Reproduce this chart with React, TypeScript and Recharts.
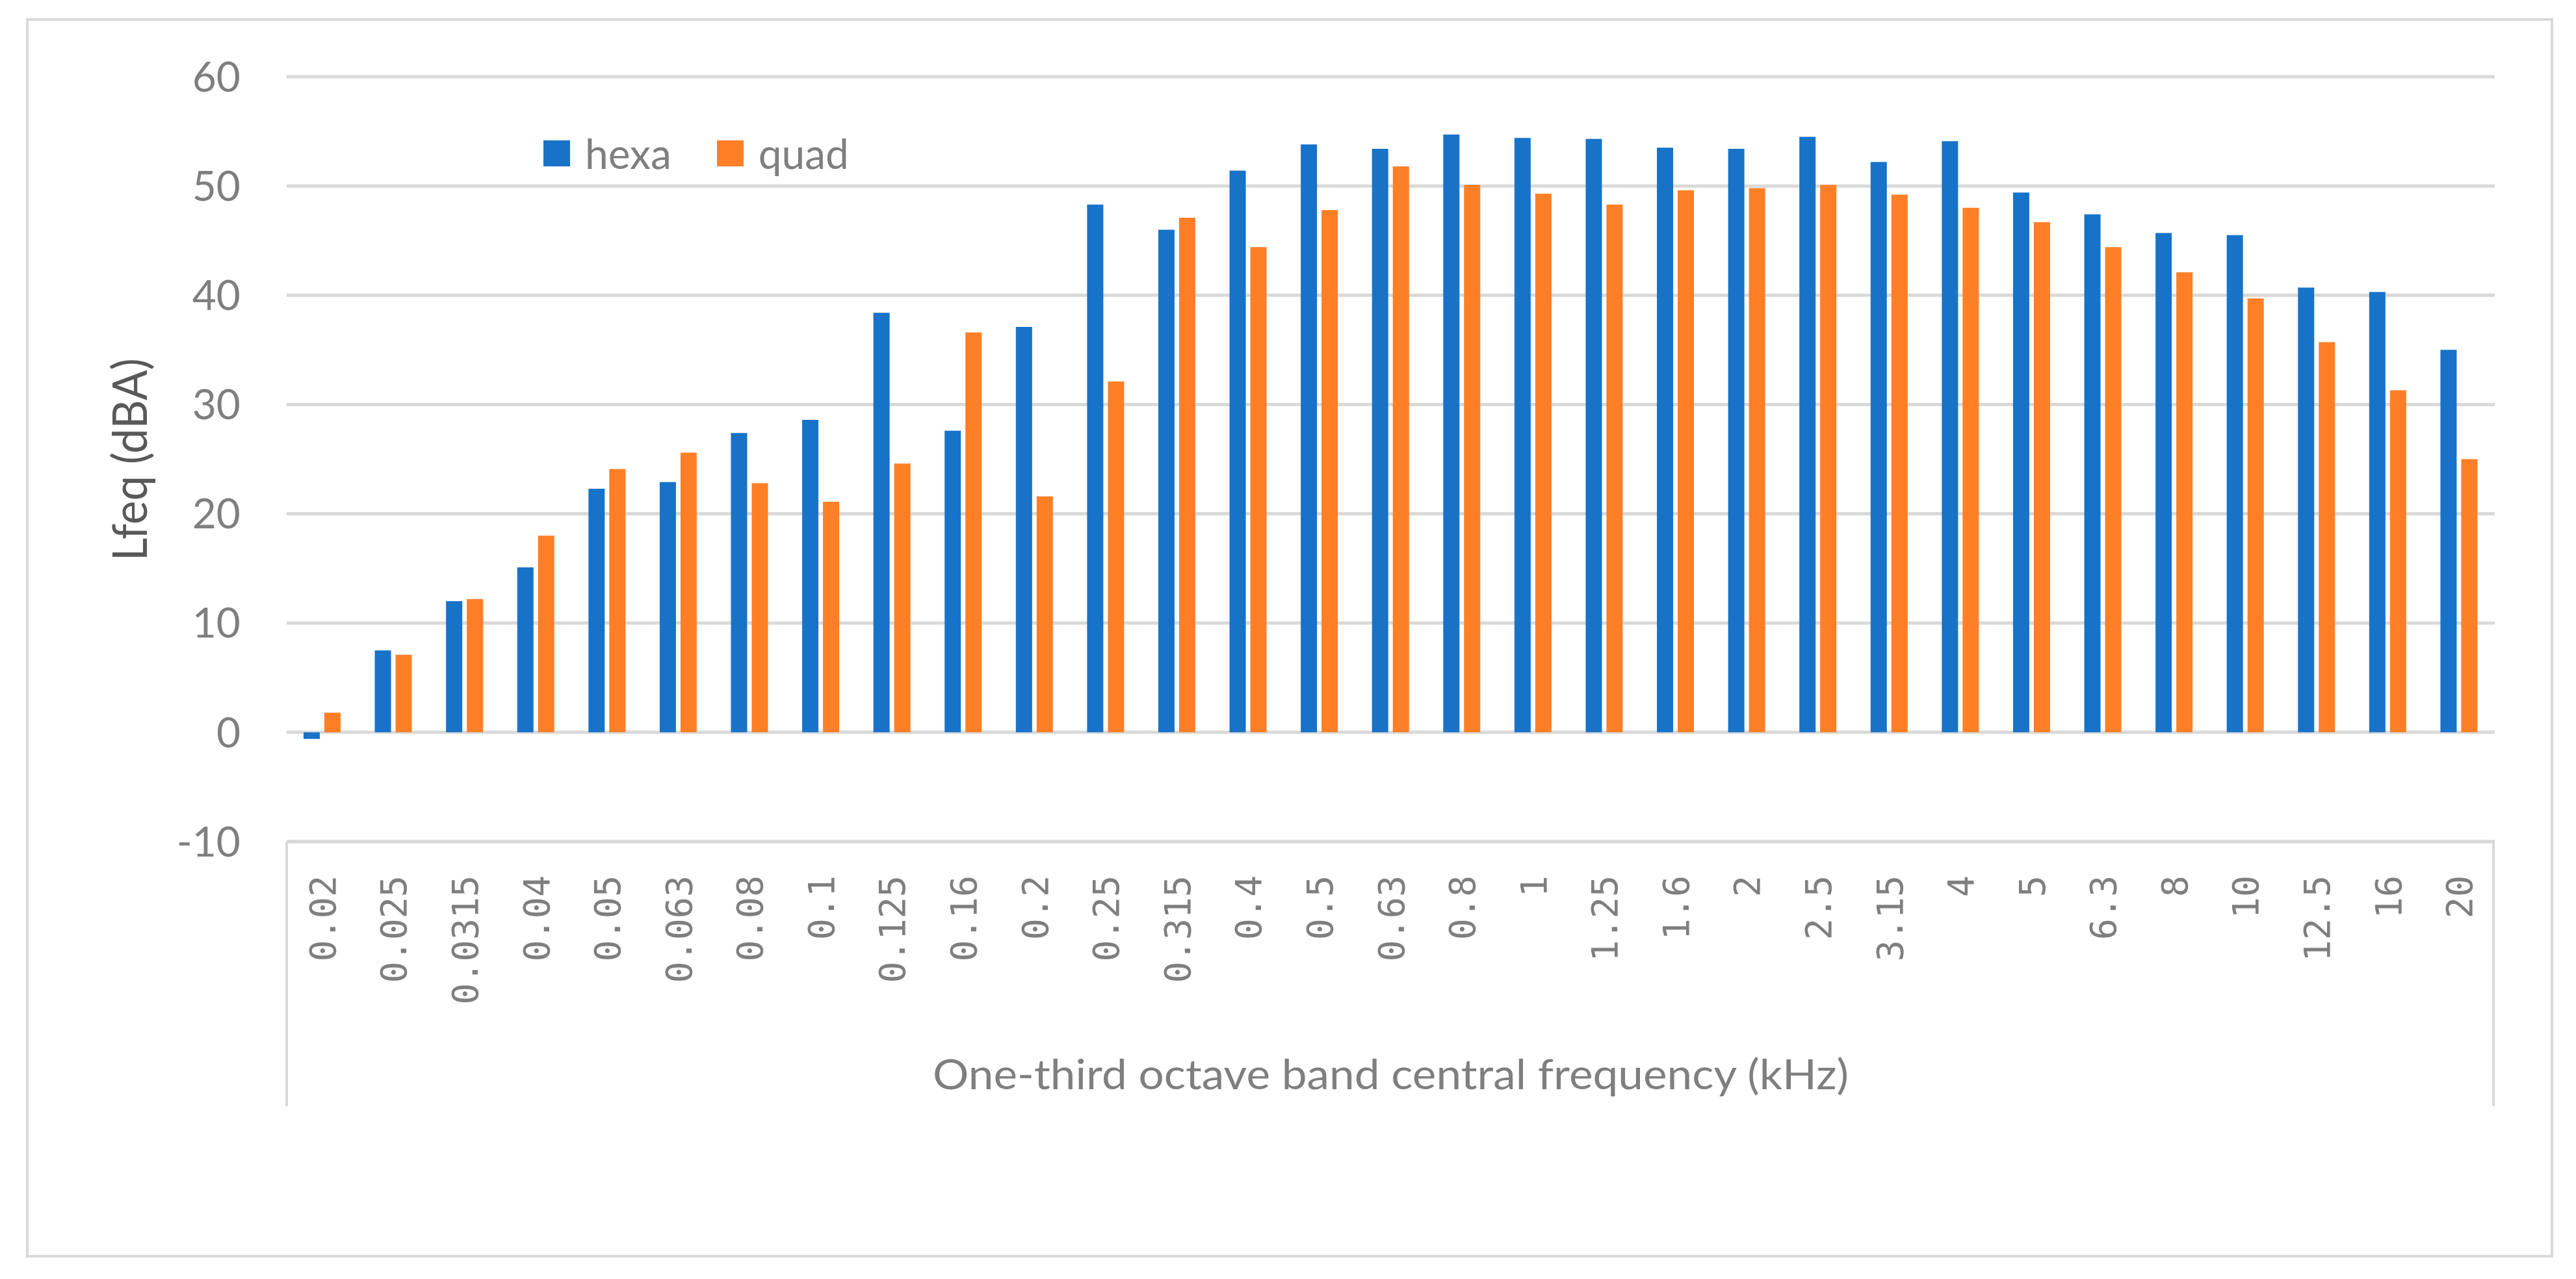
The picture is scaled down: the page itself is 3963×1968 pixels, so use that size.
import React from 'react';
import { BarChart, Bar, XAxis, YAxis, CartesianGrid, Legend } from 'recharts';

// one-third octave band centres (kHz)
const bands = [
  '0.02', '0.025', '0.0315', '0.04', '0.05', '0.063', '0.08', '0.1', '0.125', '0.16',
  '0.2', '0.25', '0.315', '0.4', '0.5', '0.63', '0.8', '1', '1.25', '1.6',
  '2', '2.5', '3.15', '4', '5', '6.3', '8', '10', '12.5', '16', '20',
];

const hexa = [
  -0.6, 7.5, 12.0, 15.1, 22.3, 22.9, 27.4, 28.6, 38.4, 27.6,
  37.1, 48.3, 46.0, 51.4, 53.8, 53.4, 54.7, 54.4, 54.3, 53.5,
  53.4, 54.5, 52.2, 54.1, 49.4, 47.4, 45.7, 45.5, 40.7, 40.3, 35.0,
];

const quad = [
  1.8, 7.1, 12.2, 18.0, 24.1, 25.6, 22.8, 21.1, 24.6, 36.6,
  21.6, 32.1, 47.1, 44.4, 47.8, 51.8, 50.1, 49.3, 48.3, 49.6,
  49.8, 50.1, 49.2, 48.0, 46.7, 44.4, 42.1, 39.7, 35.7, 31.3, 25.0,
];

const yTicks = [-10, 0, 10, 20, 30, 40, 50, 60];

const W = 3963;
const H = 1968;
const GRID = '#d9d9d9';
const TEXT = '#7f7f7f';
const BLUE = '#1873c8';
const ORANGE = '#ff7f27';

const data = bands.map((freq, i) => ({ freq, hexa: hexa[i], quad: quad[i] }));

const FreqTick = (props: any) => {
  const { x, y, payload } = props;
  // axis line sits at y - 8 (tickSize 6 + tickMargin 2)
  const top = y - 8 + 52;
  return (
    <text
      transform={`translate(${x + 20},${top}) rotate(-90)`}
      textAnchor="end"
      fill={TEXT}
      fontSize={55}
      fontFamily="'DejaVu Sans Mono', monospace"
    >
      {payload.value}
    </text>
  );
};

const AxisBox = (props: any) => {
  const vb = props.viewBox || { x: 441, y: 1295, width: 3397, height: 673 };
  const bottom = vb.y + 407;
  const cx = vb.x + vb.width / 2;
  return (
    <g>
      <line x1={vb.x} y1={vb.y} x2={vb.x} y2={bottom} stroke={GRID} strokeWidth={4} />
      <line x1={vb.x + vb.width - 2} y1={vb.y} x2={vb.x + vb.width - 2} y2={bottom} stroke={GRID} strokeWidth={4} />
      <text
        x={cx}
        y={vb.y + 381}
        textAnchor="middle"
        fill={TEXT}
        fontSize={64}
        fontFamily="Lato, 'Open Sans', sans-serif"
        textLength={1409}
        lengthAdjust="spacingAndGlyphs"
      >
        One-third octave band central frequency (kHz)
      </text>
    </g>
  );
};

const YTitle = () => (
  <text
    transform="translate(226,707) rotate(-90)"
    textAnchor="middle"
    fill="#595959"
    fontSize={74}
    fontFamily="Lato, 'Open Sans', sans-serif"
    textLength={312}
    lengthAdjust="spacingAndGlyphs"
  >
    Lfeq (dBA)
  </text>
);

const LegendBox = () => {
  const items = [
    { name: 'hexa', color: BLUE },
    { name: 'quad', color: ORANGE },
  ];
  return (
    <div style={{ display: 'flex', alignItems: 'center', fontFamily: 'Lato, sans-serif', fontSize: 64, lineHeight: 1, color: TEXT }}>
      {items.map((it, i) => (
        <div key={it.name} style={{ display: 'flex', alignItems: 'center', marginLeft: i === 0 ? 0 : 70 }}>
          <div style={{ width: 41, height: 40, background: it.color, marginRight: 23 }} />
          <span>{it.name}</span>
        </div>
      ))}
    </div>
  );
};

export default function App() {
  return (
    <div style={{ position: 'absolute', left: 0, top: 0, width: W, height: H, background: '#fff' }}>
      <div
        style={{
          position: 'absolute',
          left: 40,
          top: 28,
          width: 3888,
          height: 1907,
          border: `4px solid ${GRID}`,
          boxSizing: 'border-box',
        }}
      />
      <div style={{ position: 'absolute', left: 0, top: 0 }}>
        <BarChart
          width={W}
          height={H}
          data={data}
          margin={{ top: 118, right: 125, left: 0, bottom: 0 }}
          barGap={7}
        >
          <CartesianGrid vertical={false} stroke={GRID} strokeWidth={5} />
          <XAxis
            dataKey="freq"
            interval={0}
            height={673}
            tickLine={false}
            axisLine={{ stroke: GRID, strokeWidth: 5 }}
            tick={<FreqTick />}
            label={{ content: <AxisBox /> } as any}
          />
          <YAxis
            width={441}
            domain={[-10, 60]}
            ticks={yTicks}
            interval={0}
            tickLine={false}
            axisLine={false}
            tickMargin={65}
            tick={{ fill: TEXT, fontSize: 64, fontFamily: 'Lato, sans-serif' }}
            label={{ content: <YTitle /> } as any}
          />
          <Legend
            layout="horizontal"
            verticalAlign="middle"
            align="center"
            content={<LegendBox />}
            wrapperStyle={{ left: 836, top: 204, width: 'auto' }}
          />
          <Bar dataKey="hexa" name="hexa" fill={BLUE} barSize={25} isAnimationActive={false} />
          <Bar dataKey="quad" name="quad" fill={ORANGE} barSize={25} isAnimationActive={false} />
        </BarChart>
      </div>
    </div>
  );
}
